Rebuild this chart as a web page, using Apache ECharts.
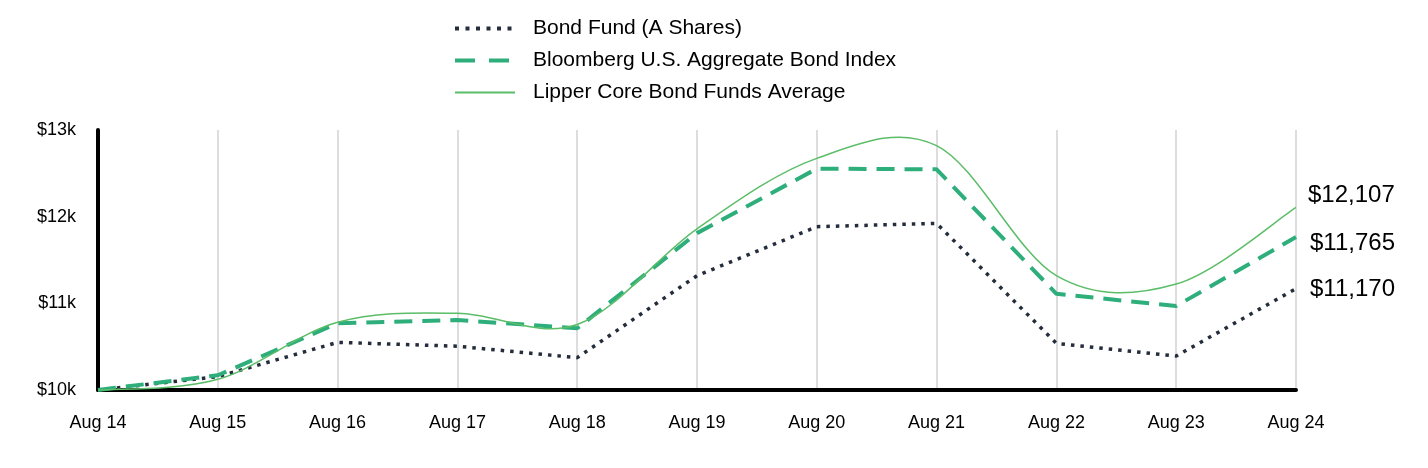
<!DOCTYPE html>
<html>
<head>
<meta charset="utf-8">
<script src="https://cdn.jsdelivr.net/npm/echarts@6/dist/echarts.min.js"></script>
<style>html,body{margin:0;padding:0;background:#fff}#c{width:1428px;height:468px}</style>
</head>
<body>
<div id="c"></div>
<script>
const categories = ["Aug 14","Aug 15","Aug 16","Aug 17","Aug 18","Aug 19","Aug 20","Aug 21","Aug 22","Aug 23","Aug 24"];
const bondFund = [10000,10154,10550,10505,10373,11319,11884,11923,10538,10392,11170];
const bloomberg = [10000,10170,10769,10808,10712,11810,12554,12546,11110,10969,11765];
const lipper = [10000,10123,10781,10885,10755,11860,12673,12820,11319,11223,12107];
const yTicks = [10000,11000,12000,13000];

const fontFam = '"Liberation Sans", Arial, sans-serif';
const money = v => '$' + v.toLocaleString('en-US');
const chart = echarts.init(document.getElementById('c'));
function endLbl(dy){
  return {show:true, formatter:p=>money(p.value), fontSize:24, color:'#000', fontFamily:fontFam, offset:[6,dy], valueAnimation:false};
}
const BOND_COLOR = '#242d3c';
const BBG_COLOR = '#2eae7b';
const LIPPER_COLOR = '#5bbd68';
function renderLipper(params, api){
  if (params.dataIndex !== 0) return null;
  const pts = lipper.map((v,i)=>api.coord([i, v]));
  let d = 'M' + pts[0][0] + ',' + pts[0][1];
  for (let i = 0; i < pts.length - 1; i++) {
    const p0 = pts[i-1] || pts[i], p1 = pts[i], p2 = pts[i+1], p3 = pts[i+2] || pts[i+1];
    const c1x = p1[0] + (p2[0]-p0[0])/6, c1y = p1[1] + (p2[1]-p0[1])/6;
    const c2x = p2[0] - (p3[0]-p1[0])/6, c2y = p2[1] - (p3[1]-p1[1])/6;
    d += ' C' + c1x + ',' + c1y + ' ' + c2x + ',' + c2y + ' ' + p2[0] + ',' + p2[1];
  }
  const last = pts[pts.length-1];
  return {type:'group', children:[
    {type:'path', shape:{pathData:d}, style:{fill:'none', stroke:LIPPER_COLOR, lineWidth:1.5}},
    {type:'text', x:last[0]+12, y:last[1]-12, style:{text:money(lipper[lipper.length-1]), fill:'#000', fontSize:24, fontFamily:fontFam, verticalAlign:'middle', align:'left'}}
  ]};
}
chart.setOption({
  animation:false,
  textStyle:{fontFamily:fontFam},
  legend:{
    orient:'vertical', left:448, top:13, itemWidth:60, itemHeight:14, itemGap:11,
    itemStyle:{opacity:0},
    textStyle:{fontSize:21, color:'#000', fontFamily:fontFam, padding:[0,0,0,13]},
    data:[
      {name:"Bond Fund (A Shares)", lineStyle:{width:4, type:[4,6.5], color:BOND_COLOR}},
      {name:"Bloomberg U.S. Aggregate Bond Index", lineStyle:{width:4, type:[20,14], color:BBG_COLOR}},
      {name:"Lipper Core Bond Funds Average", icon:'path://M0,0 L60,0 L60,2 L0,2 Z', itemStyle:{opacity:1, color:LIPPER_COLOR}}
    ]
  },
  grid:{left:98, right:132, top:130, bottom:78},
  xAxis:{
    type:'category', data:categories, boundaryGap:false,
    axisLine:{lineStyle:{color:'#000', width:4}},
    axisTick:{show:false},
    axisLabel:{fontSize:18, color:'#000', margin:24, fontFamily:fontFam},
    splitLine:{show:true, lineStyle:{color:'#dddddd', width:2}}
  },
  yAxis:{
    type:'value', min:yTicks[0], max:yTicks[yTicks.length-1], interval:1000,
    axisLine:{show:true, lineStyle:{color:'#000', width:4}},
    axisTick:{show:false},
    splitLine:{show:false},
    axisLabel:{fontSize:18, color:'#000', margin:22, fontFamily:fontFam, formatter:v=>'$'+(v/1000)+'k'}
  },
  series:[
    {name:"Bond Fund (A Shares)", type:'line', data:bondFund, symbol:'none', z:3,
     lineStyle:{color:BOND_COLOR, width:3.5, type:[3.5,6]}, itemStyle:{color:BOND_COLOR},
     endLabel:endLbl(1)},
    {name:"Bloomberg U.S. Aggregate Bond Index", type:'line', data:bloomberg, symbol:'none', z:4,
     lineStyle:{color:BBG_COLOR, width:4, type:[18,10]}, itemStyle:{color:BBG_COLOR},
     endLabel:endLbl(6)},
    {name:"Lipper Core Bond Funds Average", type:'custom', data:lipper.map((v,i)=>[i,v]), z:5,
     encode:{x:0, y:1}, itemStyle:{color:LIPPER_COLOR}, renderItem:renderLipper}
  ]
});
</script>
</body>
</html>
